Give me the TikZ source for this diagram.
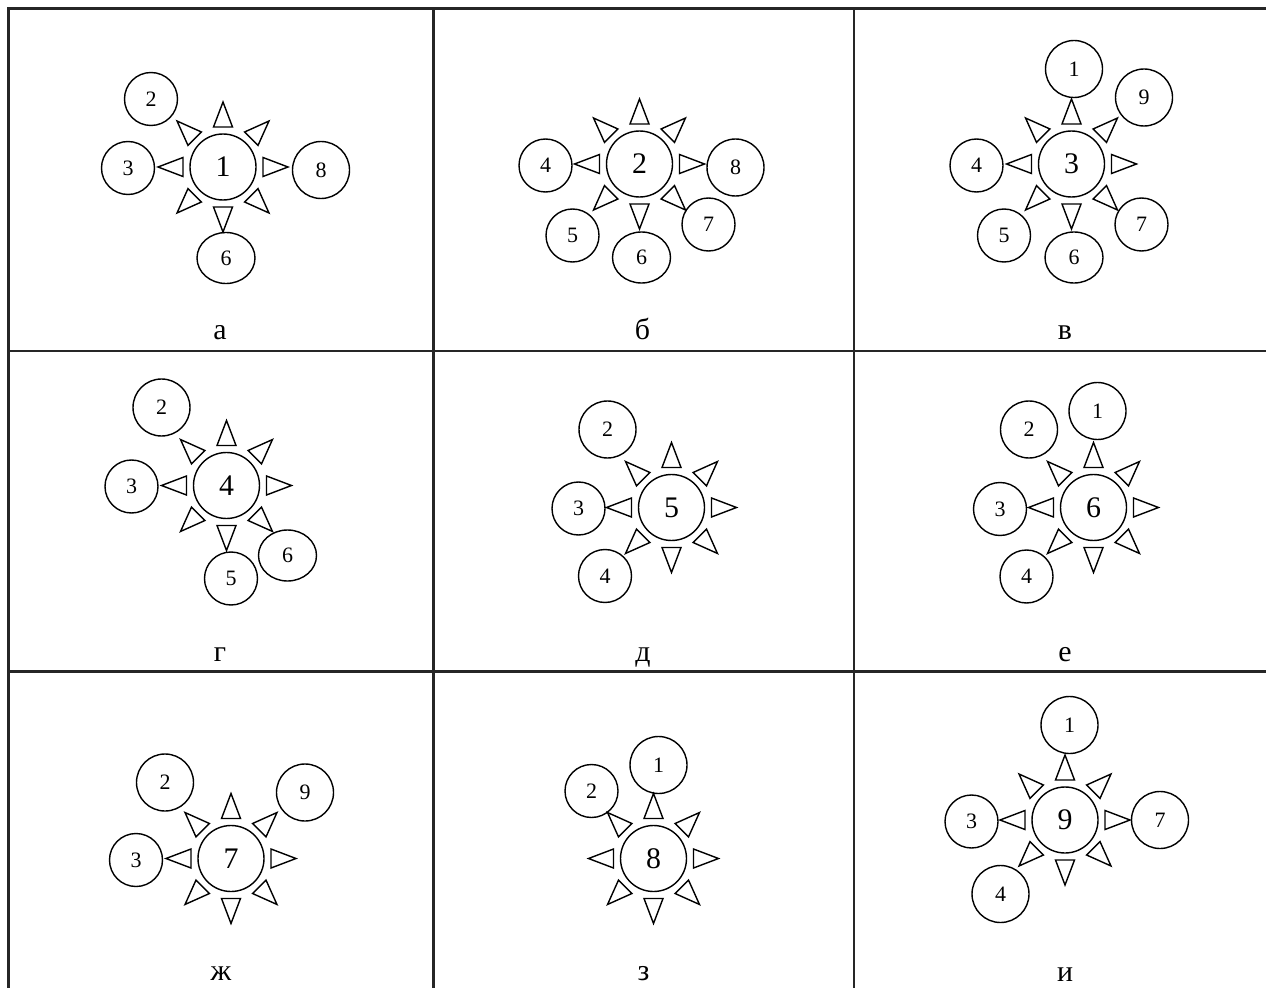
\documentclass[tikz,border=0pt]{standalone}
\usepackage{fontspec}
\setmainfont{Liberation Serif}
\usetikzlibrary{calc, shapes.geometric}

\begin{document}
\begin{tikzpicture}[line width=0.8pt,grid/.style={draw=black!85, line width=1.4pt},hub/.style={draw, circle, minimum size=1.32cm, inner sep=0pt, font=\fontsize{17}{20}\selectfont},nb/.style={draw, circle, minimum size=1.06cm, inner sep=0pt, font=\fontsize{12.5}{14}\selectfont},nbbig/.style={nb, minimum size=1.14cm},nbwide/.style={draw, ellipse, minimum width=1.16cm, minimum height=1.02cm, inner sep=0pt, font=\fontsize{12.5}{14}\selectfont},ray/.style={draw, fill=white, line join=miter},caption/.style={anchor=base, font=\fontsize{17}{20}\selectfont}]
\useasboundingbox (0,0) rectangle (25.32,19.76);
\draw[grid] (25.32,19.59) -- (0.17,19.59) -- (0.17,0);
\draw[grid] (8.67,19.59) -- (8.67,0);
\draw[grid] (17.08,19.59) -- (17.08,0);
\draw[grid] (0.17,12.74) -- (25.32,12.74);
\draw[grid] (0.17,6.33) -- (25.32,6.33);
\node[hub] (ca) at (4.46,16.42) {1};
\node[nb] (a2) at (3.02,17.78) {2};
\node[nb] (a3) at (2.56,16.40) {3};
\node[nbbig] (a8) at (6.42,16.36) {8};
\node[nbwide] (a6) at (4.52,14.60) {6};
\node[caption] (la) at (4.40,12.96) {а};
\node[hub] (cb) at (12.79,16.48) {2};
\node[nb] (b4) at (10.91,16.45) {4};
\node[nbbig] (b8) at (14.71,16.41) {8};
\node[nb] (b5) at (11.45,15.05) {5};
\node[nbwide] (b6) at (12.83,14.61) {6};
\node[nb] (b7) at (14.17,15.27) {7};
\node[caption] (lb) at (12.85,12.96) {б};
\node[hub] (cv) at (21.43,16.48) {3};
\node[nbbig] (v1) at (21.48,18.38) {1};
\node[nbbig] (v9) at (22.88,17.81) {9};
\node[nb] (v4) at (19.53,16.45) {4};
\node[nb] (v5) at (20.08,15.05) {5};
\node[nbwide] (v6) at (21.48,14.61) {6};
\node[nb] (v7) at (22.83,15.27) {7};
\node[caption] (lv) at (21.30,12.96) {в};
\node[hub] (cg) at (4.53,10.05) {4};
\node[nbbig] (g2) at (3.23,11.61) {2};
\node[nb] (g3) at (2.63,10.03) {3};
\node[nb] (g5) at (4.62,8.19) {5};
\node[nbwide] (g6) at (5.75,8.65) {6};
\node[caption] (lg) at (4.40,6.54) {г};
\node[hub] (cd) at (13.43,9.61) {5};
\node[nbbig] (d2) at (12.15,11.17) {2};
\node[nb] (d3) at (11.57,9.59) {3};
\node[nb] (d4) at (12.10,8.24) {4};
\node[caption] (ld) at (12.86,6.54) {д};
\node[hub] (ce) at (21.87,9.61) {6};
\node[nbbig] (e1) at (21.95,11.54) {1};
\node[nbbig] (e2) at (20.58,11.17) {2};
\node[nb] (e3) at (20.00,9.58) {3};
\node[nb] (e4) at (20.53,8.23) {4};
\node[caption] (le) at (21.30,6.54) {е};
\node[hub] (czh) at (4.62,2.59) {7};
\node[nbbig] (zh2) at (3.30,4.11) {2};
\node[nbbig] (zh9) at (6.10,3.91) {9};
\node[nb] (zh3) at (2.72,2.56) {3};
\node[caption] (lzh) at (4.42,0.16) {ж};
\node[hub] (cz) at (13.07,2.59) {8};
\node[nbbig] (z1) at (13.17,4.46) {1};
\node[nb] (z2) at (11.83,3.94) {2};
\node[caption] (lz) at (12.87,0.16) {з};
\node[hub] (ci) at (21.30,3.36) {9};
\node[nbbig] (i1) at (21.39,5.26) {1};
\node[nb] (i3) at (19.43,3.33) {3};
\node[nbbig] (i7) at (23.20,3.36) {7};
\node[nbbig] (i4) at (20.01,1.88) {4};
\node[caption] (li) at (21.30,0.14) {и};
\foreach \c in {ca,cb,cv,cg,cd,ce,czh,cz,ci}
  \foreach \a in {0,45,...,315}
    \draw[ray] ($(\c)+(\a:0.8)+(\a+90:0.19)$) -- ($(\c)+(\a:1.3)$) -- ($(\c)+(\a:0.8)+(\a-90:0.19)$) -- cycle;
\end{tikzpicture}
\end{document}
